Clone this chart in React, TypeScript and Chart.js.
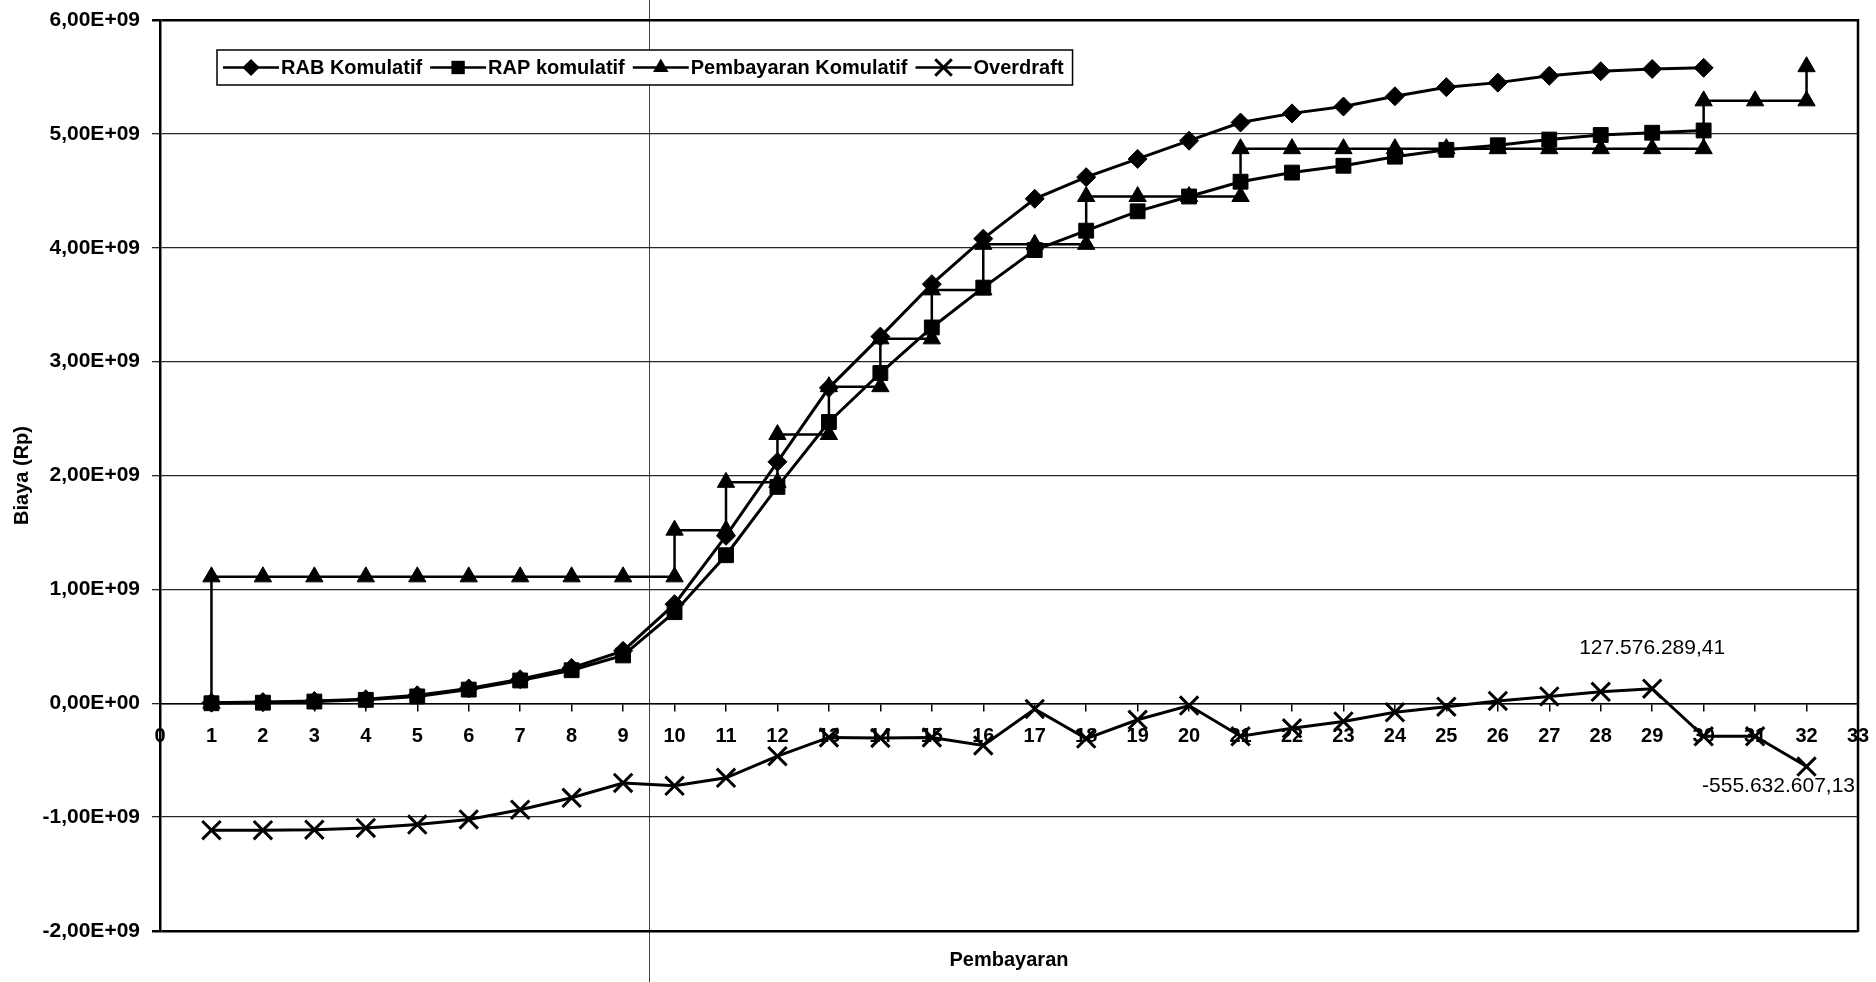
import React, { useEffect, useRef } from 'react';
import { Chart, registerables } from 'chart.js';

Chart.register(...registerables);

// ---------- DATA ----------
const rabX = [1, 2, 3, 4, 5, 6, 7, 8, 9, 10, 11, 12, 13, 14, 15, 16, 17, 18, 19, 20, 21, 22, 23, 24, 25, 26, 27, 28, 29, 30];
const rabY = [0.005e9, 0.01e9, 0.02e9, 0.035e9, 0.07e9, 0.13e9, 0.21e9, 0.31e9, 0.46e9, 0.87e9, 1.47e9, 2.12e9, 2.77e9, 3.22e9, 3.68e9, 4.08e9, 4.43e9, 4.62e9, 4.78e9, 4.94e9, 5.10e9, 5.18e9, 5.24e9, 5.33e9, 5.41e9, 5.45e9, 5.51e9, 5.55e9, 5.57e9, 5.58e9];

const rapX = [1, 2, 3, 4, 5, 6, 7, 8, 9, 10, 11, 12, 13, 14, 15, 16, 17, 18, 19, 20, 21, 22, 23, 24, 25, 26, 27, 28, 29, 30];
const rapY = [0, 0.005e9, 0.015e9, 0.03e9, 0.06e9, 0.12e9, 0.2e9, 0.29e9, 0.42e9, 0.8e9, 1.3e9, 1.9e9, 2.47e9, 2.9e9, 3.3e9, 3.65e9, 3.98e9, 4.15e9, 4.32e9, 4.45e9, 4.58e9, 4.66e9, 4.72e9, 4.80e9, 4.86e9, 4.90e9, 4.95e9, 4.99e9, 5.01e9, 5.03e9];

const pembayaranX = [1, 1, 2, 3, 4, 5, 6, 7, 8, 9, 10, 10, 11, 11, 12, 12, 13, 13, 14, 14, 15, 15, 16, 16, 17, 18, 18, 19, 20, 21, 21, 22, 23, 24, 25, 26, 27, 28, 29, 30, 30, 31, 32, 32];
const pembayaranY = [0, 1.11e9, 1.11e9, 1.11e9, 1.11e9, 1.11e9, 1.11e9, 1.11e9, 1.11e9, 1.11e9, 1.11e9, 1.52e9, 1.52e9, 1.94e9, 1.94e9, 2.36e9, 2.36e9, 2.78e9, 2.78e9, 3.2e9, 3.2e9, 3.63e9, 3.63e9, 4.03e9, 4.03e9, 4.03e9, 4.45e9, 4.45e9, 4.45e9, 4.45e9, 4.87e9, 4.87e9, 4.87e9, 4.87e9, 4.87e9, 4.87e9, 4.87e9, 4.87e9, 4.87e9, 4.87e9, 5.29e9, 5.29e9, 5.29e9, 5.59e9];

const overdraftX = [1, 2, 3, 4, 5, 6, 7, 8, 9, 10, 11, 12, 13, 14, 15, 16, 17, 18, 19, 20, 21, 22, 23, 24, 25, 26, 27, 28, 29, 30, 31, 32];
const overdraftY = [-1.115e9, -1.115e9, -1.11e9, -1.095e9, -1.065e9, -1.02e9, -0.935e9, -0.83e9, -0.70e9, -0.725e9, -0.655e9, -0.465e9, -0.30e9, -0.305e9, -0.30e9, -0.37e9, -0.05e9, -0.31e9, -0.145e9, -0.02e9, -0.29e9, -0.22e9, -0.16e9, -0.08e9, -0.03e9, 0.02e9, 0.06e9, 0.10e9, 0.127576289e9, -0.29e9, -0.29e9, -0.555632607e9];

const seriesLabels = ['RAB Komulatif', 'RAP komulatif', 'Pembayaran Komulatif', 'Overdraft'];

const overdraftLabelIndex = [28, 31];
const overdraftLabelText = ['127.576.289,41', '-555.632.607,13'];
const overdraftLabelSide = ['above', 'below'];

const xMin = 0;
const xMax = 33;
const yMin = -2e9;
const yMax = 6e9;
const yStep = 1e9;

const scanLineX = 9.5; // scanner artefact line (decoration)

// ---------- STYLE ----------
const FONT = '"Liberation Sans", Arial, Helvetica, sans-serif';

function fmtExp(v: number): string {
  const s = Number(v).toExponential(2);
  const [m, e] = s.split('e');
  const sign = e[0] === '-' ? '-' : '+';
  const digits = e.replace(/^[+-]/, '').padStart(2, '0');
  return m.replace('.', ',') + 'E' + sign + digits;
}

function toPoints(xs: number[], ys: number[]) {
  return xs.map((x, i) => ({ x, y: ys[i] }));
}

function drawMarker(ctx: CanvasRenderingContext2D, style: string, x: number, y: number, r: number) {
  ctx.beginPath();
  if (style === 'rectRot') {
    ctx.moveTo(x, y - r);
    ctx.lineTo(x + r, y);
    ctx.lineTo(x, y + r);
    ctx.lineTo(x - r, y);
    ctx.closePath();
    ctx.fill();
  } else if (style === 'rect') {
    const s = r * Math.SQRT1_2;
    ctx.rect(x - s, y - s, 2 * s, 2 * s);
    ctx.fill();
  } else if (style === 'triangle') {
    let rad = 0;
    ctx.moveTo(x + Math.sin(rad) * r, y - Math.cos(rad) * r);
    rad += (2 * Math.PI) / 3;
    ctx.lineTo(x + Math.sin(rad) * r, y - Math.cos(rad) * r);
    rad += (2 * Math.PI) / 3;
    ctx.lineTo(x + Math.sin(rad) * r, y - Math.cos(rad) * r);
    ctx.closePath();
    ctx.fill();
  } else if (style === 'crossRot') {
    const d = r * Math.SQRT1_2;
    ctx.moveTo(x - d, y - d);
    ctx.lineTo(x + d, y + d);
    ctx.moveTo(x + d, y - d);
    ctx.lineTo(x - d, y + d);
    ctx.stroke();
  }
}

const frameAndDecorPlugin = {
  id: 'frameAndDecor',
  beforeDatasetsDraw(chart: any) {
    const { ctx, chartArea } = chart;
    ctx.save();
    ctx.strokeStyle = '#000';
    ctx.lineWidth = 2.5;
    ctx.beginPath();
    ctx.moveTo(chartArea.right, chartArea.top - 1);
    ctx.lineTo(chartArea.right, chartArea.bottom + 1);
    ctx.stroke();
    ctx.restore();
  },
  afterDraw(chart: any) {
    const { ctx, scales } = chart;
    ctx.save();
    const x = Math.round(scales.x.getPixelForValue(scanLineX)) + 0.5;
    ctx.strokeStyle = 'rgba(0,0,0,0.75)';
    ctx.lineWidth = 1;
    ctx.beginPath();
    ctx.moveTo(x, 0);
    ctx.lineTo(x, chart.height);
    ctx.stroke();
    ctx.restore();
  },
};

const pointLabelPlugin = {
  id: 'pointLabels',
  afterDatasetsDraw(chart: any) {
    const { ctx, chartArea } = chart;
    const meta = chart.getDatasetMeta(3);
    ctx.save();
    ctx.font = `21px ${FONT}`;
    ctx.fillStyle = '#000';
    ctx.textAlign = 'center';
    ctx.textBaseline = 'middle';
    overdraftLabelIndex.forEach((idx, i) => {
      const el = meta.data[idx];
      if (!el) return;
      const text = overdraftLabelText[i];
      const w = ctx.measureText(text).width;
      let cx = el.x;
      cx = Math.min(cx, chartArea.right - w / 2 - 3);
      const cy = overdraftLabelSide[i] === 'above' ? el.y - 41 : el.y + 20;
      ctx.fillText(text, cx, cy);
    });
    ctx.restore();
  },
};

const legendPlugin = {
  id: 'excelLegend',
  afterDraw(chart: any) {
    const { ctx, chartArea } = chart;
    const dss = chart.data.datasets;
    ctx.save();
    ctx.font = `bold 20px ${FONT}`;
    const padL = 6;
    const padR = 9;
    const lineLen = 56;
    const gap = 2;
    const spacing = 8;
    const widths = dss.map((d: any) => ctx.measureText(d.label).width);
    let total = padL + padR;
    widths.forEach((w: number, i: number) => {
      total += lineLen + gap + w + (i < widths.length - 1 ? spacing : 0);
    });
    const left = chartArea.left + 57;
    const top = chartArea.top + 30;
    const h = 35;
    ctx.fillStyle = '#fff';
    ctx.fillRect(left, top, total, h);
    ctx.strokeStyle = '#000';
    ctx.lineWidth = 1.5;
    ctx.strokeRect(left, top, total, h);
    const cy = top + h / 2;
    let x = left + padL;
    dss.forEach((d: any, i: number) => {
      ctx.strokeStyle = '#000';
      ctx.fillStyle = '#000';
      ctx.lineWidth = 2.5;
      ctx.beginPath();
      ctx.moveTo(x, cy);
      ctx.lineTo(x + lineLen, cy);
      ctx.stroke();
      ctx.lineWidth = 3;
      drawMarker(ctx, d.pointStyle, x + lineLen / 2, cy, d.pointRadius * 0.9);
      x += lineLen + gap;
      ctx.fillStyle = '#000';
      ctx.textAlign = 'left';
      ctx.textBaseline = 'middle';
      ctx.fillText(d.label, x, cy + 1);
      x += widths[i] + spacing;
    });
    ctx.restore();
  },
};

export default function App() {
  const canvasRef = useRef<HTMLCanvasElement | null>(null);

  useEffect(() => {
    if (!canvasRef.current) return;
    const lineCommon = {
      borderColor: '#000',
      backgroundColor: '#000',
      pointBackgroundColor: '#000',
      pointBorderColor: '#000',
      tension: 0,
      fill: false,
      clip: false as any,
    };
    const chart = new Chart(canvasRef.current, {
      type: 'line',
      data: {
        datasets: [
          {
            ...lineCommon,
            label: seriesLabels[0],
            data: toPoints(rabX, rabY),
            borderWidth: 3,
            pointStyle: 'rectRot',
            pointRadius: 9.5,
            pointBorderWidth: 1,
          },
          {
            ...lineCommon,
            label: seriesLabels[1],
            data: toPoints(rapX, rapY),
            borderWidth: 3,
            pointStyle: 'rect',
            pointRadius: 10.5,
            pointBorderWidth: 1,
          },
          {
            ...lineCommon,
            label: seriesLabels[2],
            data: toPoints(pembayaranX, pembayaranY),
            borderWidth: 2.5,
            pointStyle: 'triangle',
            pointRadius: 10,
            pointBorderWidth: 1,
          },
          {
            ...lineCommon,
            label: seriesLabels[3],
            data: toPoints(overdraftX, overdraftY),
            borderWidth: 3,
            pointStyle: 'crossRot',
            pointRadius: 13,
            pointBorderWidth: 3,
          },
        ] as any,
      },
      options: {
        animation: false,
        responsive: false,
        events: [],
        layout: { padding: { top: 20, right: 18, left: 0, bottom: 0 } },
        plugins: {
          legend: { display: false },
          tooltip: { enabled: false },
          title: {
            display: true,
            text: 'Pembayaran',
            position: 'bottom',
            fullSize: false,
            align: 'center',
            color: '#000',
            font: { family: FONT, size: 20, weight: 'bold' },
            padding: { top: 17, bottom: 10 },
          },
        },
        scales: {
          x: {
            type: 'linear',
            min: xMin,
            max: xMax,
            position: { y: 0 } as any,
            ticks: {
              stepSize: 1,
              autoSkip: false,
              maxRotation: 0,
              color: '#000',
              font: { family: FONT, size: 20, weight: 'bold' },
              padding: 14,
            },
            grid: {
              drawOnChartArea: false,
              drawTicks: true,
              tickLength: 7,
              color: '#000',
              lineWidth: 1.5,
            },
            border: { display: true, color: '#000', width: 1.5 },
            afterFit: (s: any) => {
              s.paddingLeft = 0;
              s.paddingRight = 0;
            },
          },
          y: {
            type: 'linear',
            min: yMin,
            max: yMax,
            ticks: {
              stepSize: yStep,
              color: '#000',
              font: { family: FONT, size: 21, weight: 'bold' },
              padding: 12,
              callback: (v: any) => fmtExp(Number(v)),
            },
            grid: {
              color: (c: any) => (c.tick && (c.tick.value === yMax || c.tick.value === yMin) ? '#000' : 'rgba(0,0,0,0.85)'),
              lineWidth: (c: any) => (c.tick && (c.tick.value === yMax || c.tick.value === yMin) ? 2.5 : 1.3),
              tickLength: 8,
              drawTicks: true,
            },
            border: { display: true, color: '#000', width: 2.5 },
            title: {
              display: true,
              text: 'Biaya (Rp)',
              color: '#000',
              font: { family: FONT, size: 20, weight: 'bold' },
              padding: { top: 10, bottom: 0 },
            },
            afterFit: (s: any) => {
              s.width = 160;
              s.paddingTop = 0;
              s.paddingBottom = 0;
            },
          },
        },
      } as any,
      plugins: [frameAndDecorPlugin, pointLabelPlugin, legendPlugin],
    });
    return () => chart.destroy();
  }, []);

  return (
    <div style={{ position: 'fixed', left: 0, top: 0, width: 1876, height: 982, background: '#fff' }}>
      <canvas ref={canvasRef} width={1876} height={982} style={{ display: 'block' }} />
    </div>
  );
}
